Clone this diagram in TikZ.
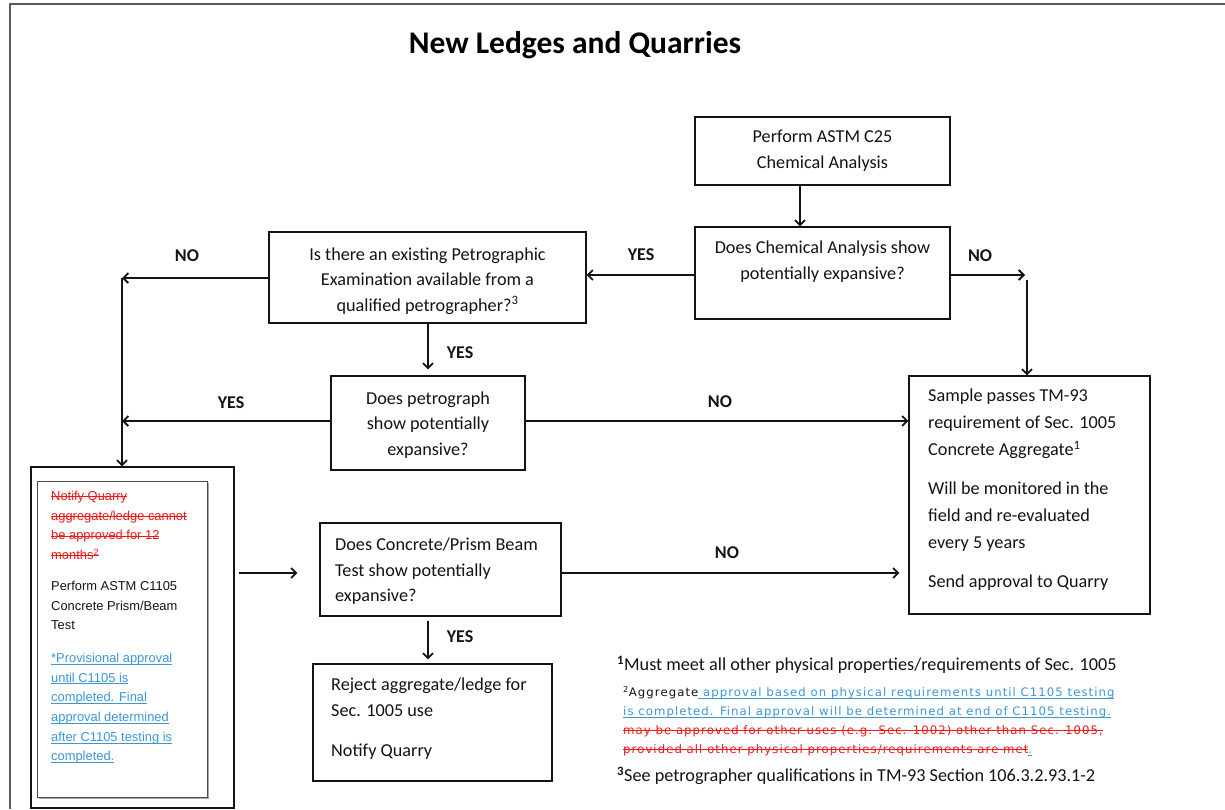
\documentclass[tikz,border=0pt]{standalone}
\usepackage{fontspec}
\setmainfont{Carlito}
\newfontfamily\aptos{Liberation Sans}
\newfontfamily\verd[LetterSpace=9]{DejaVu Sans}
\usetikzlibrary{arrows.meta}
\definecolor{strikered}{RGB}{240,25,25}
\definecolor{linkblue}{RGB}{60,150,215}
\definecolor{framegray}{RGB}{90,90,90}
\definecolor{ink}{RGB}{20,20,20}
\newcommand\ulx[1]{\setbox0\hbox{#1}\rlap{\vrule height -1.3pt depth 2.1pt width \wd0}\box0}
\newcommand\sox[1]{\setbox0\hbox{#1}\rlap{\vrule height 4.3pt depth -3.3pt width \wd0}\box0}
\begin{document}
\begin{tikzpicture}[x=1pt,y=-1pt,
  box/.style={draw=ink,line width=1.3pt,inner sep=0pt},
  txt/.style={font=\fontsize{18.2}{26}\selectfont,inner sep=0pt,align=center,text=ink},
  txtl/.style={txt,align=left},
  arr/.style={line width=2.1pt,draw=ink,-{Straight Barb[length=5pt,width=10pt,line width=1.8pt]}},
  lbl/.style={font=\fontsize{18}{18}\selectfont\bfseries,inner sep=0pt,text=ink},
  small/.style={font=\aptos\fontsize{12.9}{19.7}\selectfont,inner sep=0pt,align=left}]
\useasboundingbox (0,0) rectangle (1225,809);
\fill[white] (0,0) rectangle (1225,809);
\draw[framegray,line width=2pt] (10,809) -- (10,4) -- (1225,4);

\node[font=\fontsize{31.5}{31.5}\selectfont\bfseries,text=black] (title) at (575,45) {New Ledges and Quarries};

% boxes
\node[box,minimum width=255,minimum height=68] (c25) at (822.5,151) {};
\node[txt] (c25t) at (822.5,151) {Perform ASTM C25\\Chemical Analysis};
\node[box,minimum width=255,minimum height=92] (chem) at (822.5,273) {};
\node[txt] (chemt) at (822.5,262) {Does Chemical Analysis show\\potentially expansive?};
\node[box,minimum width=317,minimum height=91] (petro) at (427.5,277.5) {};
\node[txt,font=\fontsize{18.2}{25.5}\selectfont] (petrot) at (427.5,281) {Is there an existing Petrographic\\Examination available from a\\qualified petrographer?\textsuperscript{3}};
\node[box,minimum width=194,minimum height=94] (pgraph) at (428,423) {};
\node[txt,font=\fontsize{18.2}{25.5}\selectfont] (pgrapht) at (428,425) {Does petrograph\\show potentially\\expansive?};
\node[box,minimum width=241,minimum height=238] (sample) at (1029.5,495) {};
\node[txtl,font=\fontsize{18.2}{27}\selectfont,anchor=north west] (samplet) at (928,389) {Sample passes TM-93\\requirement of Sec. 1005\\Concrete Aggregate\textsuperscript{1}\\[12pt]Will be monitored in the\\field and re-evaluated\\every 5 years\\[12pt]Send approval to Quarry};
\node[box,minimum width=241,minimum height=93] (concrete) at (440.5,569.5) {};
\node[txtl,font=\fontsize{18.2}{25.5}\selectfont,anchor=north west] (concretet) at (335,538) {Does Concrete/Prism Beam\\Test show potentially\\expansive?};
\node[box,minimum width=239,minimum height=117] (reject) at (432.5,722.5) {};
\node[txtl,anchor=north west] (rejectt) at (331,678) {Reject aggregate/ledge for\\Sec. 1005 use\\[14pt]Notify Quarry};

% left box
\node[box,minimum width=203,minimum height=341] (lout) at (132.5,637.5) {};
\draw[black!35,line width=1.2pt] (38.5,798.5) -- (208.5,798.5) -- (208.5,482.5);
\node[draw=black!70,line width=1pt,inner sep=0pt,minimum width=170,minimum height=316] (lin) at (122,639) {};
\node[small,anchor=north west] (lint) at (51,491) {%
\textcolor{strikered}{\sox{Notify Quarry}}\\
\textcolor{strikered}{\sox{aggregate/ledge cannot}}\\
\textcolor{strikered}{\sox{be approved for 12}}\\
\textcolor{strikered}{\sox{months\textsuperscript{2}}}\\[11pt]
\textcolor{ink}{Perform ASTM C1105}\\
\textcolor{ink}{Concrete Prism/Beam}\\
\textcolor{ink}{Test}\\[13pt]
\textcolor{linkblue}{\ulx{*Provisional approval}}\\
\textcolor{linkblue}{\ulx{until C1105 is}}\\
\textcolor{linkblue}{\ulx{completed. Final}}\\
\textcolor{linkblue}{\ulx{approval determined}}\\
\textcolor{linkblue}{\ulx{after C1105 testing is}}\\
\textcolor{linkblue}{\ulx{completed.}}};

% labels
\node[lbl] (l1) at (641,255) {YES};
\node[lbl] (l2) at (980,256) {NO};
\node[lbl] (l3) at (187,256) {NO};
\node[lbl] (l4) at (460,353) {YES};
\node[lbl] (l5) at (231,403) {YES};
\node[lbl] (l6) at (720,402) {NO};
\node[lbl] (l7) at (727,553) {NO};
\node[lbl] (l8) at (460,637) {YES};

% connectors
\coordinate (noA) at (1025,275);
\coordinate (noB) at (1027,280);
\coordinate (jL) at (122,278);
\coordinate (jL2) at (122,421);
\coordinate (rowC) at (0,573);
\coordinate (colR) at (428,0);
\draw[arr] ([xshift=-22.5pt]c25.south) -- ([xshift=-22.5pt]chem.north);
\draw[arr] ([yshift=-2pt]chem.west) -- ([yshift=-2pt]chem.west -| petro.east);
\draw[arr] (chem.east |- noA) -- (noA);
\draw[arr] (noB) -- (noB |- sample.north);
\draw[arr] (petro.west |- jL) -- (jL);
\draw[arr] (jL) -- (jL |- lout.north);
\draw[arr,shorten >=6pt] (petro.south -| colR) -- (pgraph.north -| colR);
\draw[arr] (pgraph.west |- jL2) -- (jL2);
\draw[arr] (pgraph.east |- jL2) -- (sample.west |- jL2);
\draw[arr,shorten <=4pt,shorten >=22pt] (lout.east |- rowC) -- (concrete.west |- rowC);
\draw[arr,shorten >=9pt] (concrete.east |- rowC) -- (sample.west |- rowC);
\draw[arr,shorten <=4pt,shorten >=4pt] (concrete.south -| colR) -- (reject.north -| colR);

% footnotes
\node[font=\fontsize{18.2}{18}\selectfont,inner sep=0pt,anchor=west,text=ink] (fn1) at (617,665) {\textsuperscript{\textbf{1}}Must meet all other physical properties/requirements of Sec. 1005};
\node[font=\verd\fontsize{11.7}{19}\selectfont,inner sep=0pt,anchor=north west,align=left] (fn2) at (623,686) {%
\textcolor{ink}{\textsuperscript{2}Aggregate}\textcolor{linkblue}{\ulx{\ approval based on physical requirements until C1105 testing}}\\
\textcolor{linkblue}{\ulx{is completed. Final approval will be determined at end of C1105 testing.}}\\
\textcolor{strikered}{\sox{may be approved for other uses (e.g. Sec. 1002) other than Sec. 1005,}}\\
\textcolor{strikered}{\sox{provided all other physical properties/requirements are met}}\textcolor{linkblue}{\ulx{.}}};
\node[font=\fontsize{18.2}{18}\selectfont,inner sep=0pt,anchor=west,text=ink] (fn3) at (617,776) {\textsuperscript{\textbf{3}}See petrographer qualifications in TM-93 Section 106.3.2.93.1-2};
\end{tikzpicture}
\end{document}
